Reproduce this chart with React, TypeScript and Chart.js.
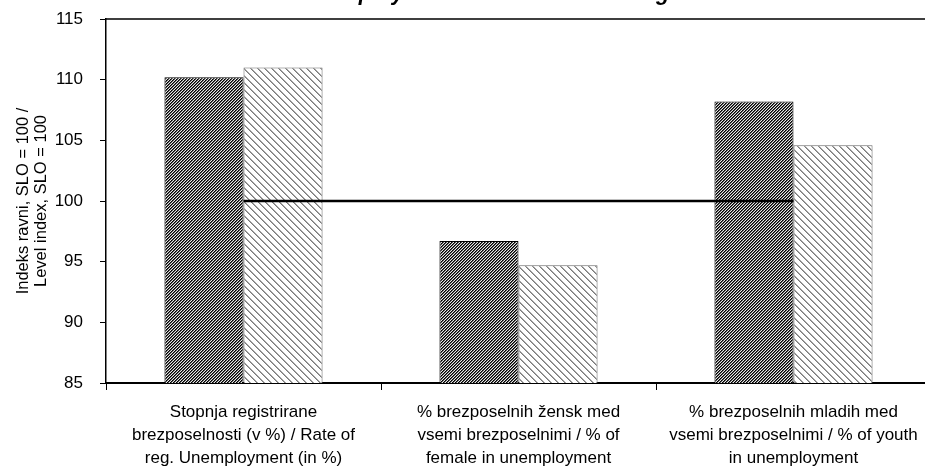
import React, { useEffect, useRef } from "react";
import { Chart, registerables } from "chart.js";

Chart.register(...registerables);

const categories: string[][] = [
  ["Stopnja registrirane", "brezposelnosti (v %) / Rate of", "reg. Unemployment (in %)"],
  ["% brezposelnih žensk med", "vsemi brezposelnimi / % of", "female in unemployment"],
  ["% brezposelnih mladih med", "vsemi brezposelnimi / % of youth", "in unemployment"],
];
const seriesA: number[] = [110.2, 96.7, 108.2];
const seriesB: number[] = [111.0, 94.7, 104.6];
const sloLine: number[] = [100, 100, 100];
const yTitle: string[] = ["Indeks ravni, SLO = 100 /", "Level index, SLO = 100"];
const chartTitle = "Unemployment in the statistical region";

const FONT = "'Liberation Sans', Arial, Helvetica, sans-serif";

function makeDarkPattern(ctx: CanvasRenderingContext2D): CanvasPattern | string {
  const c = document.createElement("canvas");
  c.width = 3;
  c.height = 3;
  const g = c.getContext("2d")!;
  for (let x = 0; x < 3; x++) {
    for (let y = 0; y < 3; y++) {
      const k = (x + y) % 3;
      g.fillStyle = k === 0 ? "#000000" : k === 1 ? "#5a5a5a" : "#e8e8e8";
      g.fillRect(x, y, 1, 1);
    }
  }
  return ctx.createPattern(c, "repeat") || "#555";
}

function makeLightPattern(ctx: CanvasRenderingContext2D): CanvasPattern | string {
  const c = document.createElement("canvas");
  c.width = 7;
  c.height = 7;
  const g = c.getContext("2d")!;
  g.fillStyle = "#ffffff";
  g.fillRect(0, 0, 7, 7);
  for (let x = 0; x < 7; x++) {
    for (let y = 0; y < 7; y++) {
      const k = (x - y + 14) % 7;
      if (k === 0) {
        g.fillStyle = "#7a7a7a";
        g.fillRect(x, y, 1, 1);
      } else if (k === 1) {
        g.fillStyle = "#a8a8a8";
        g.fillRect(x, y, 1, 1);
      }
    }
  }
  return ctx.createPattern(c, "repeat") || "#ddd";
}

const framePlugin = {
  id: "framePlugin",
  afterDraw(chart: any) {
    const { ctx, chartArea } = chart;
    ctx.save();
    ctx.strokeStyle = "#000";
    ctx.lineWidth = 1.5;
    ctx.beginPath();
    ctx.moveTo(chartArea.left, chartArea.top);
    ctx.lineTo(chartArea.right, chartArea.top);
    ctx.lineTo(chartArea.right, chartArea.bottom);
    ctx.stroke();
    ctx.fillStyle = "#000";
    ctx.font = `italic bold 22px ${FONT}`;
    ctx.textAlign = "center";
    ctx.textBaseline = "alphabetic";
    ctx.fillText(chartTitle, 500, 0);
    ctx.restore();
  },
};

export default function App() {
  const ref = useRef<HTMLCanvasElement | null>(null);

  useEffect(() => {
    const canvas = ref.current;
    if (!canvas) return;
    const ctx = canvas.getContext("2d")!;
    const dark = makeDarkPattern(ctx);
    const light = makeLightPattern(ctx);

    const chart = new Chart(ctx, {
      type: "bar",
      data: {
        labels: categories,
        datasets: [
          {
            type: "line",
            label: "SLO",
            data: sloLine,
            borderColor: "#000",
            borderWidth: 2.5,
            pointRadius: 0,
            fill: false,
            order: 0,
          } as any,
          {
            label: "A",
            data: seriesA,
            backgroundColor: dark as any,
            borderColor: "#000",
            borderWidth: 1,
            categoryPercentage: 0.575,
            barPercentage: 1,
            order: 1,
          },
          {
            label: "B",
            data: seriesB,
            backgroundColor: light as any,
            borderColor: "#666",
            borderWidth: 1,
            categoryPercentage: 0.575,
            barPercentage: 1,
            order: 1,
          },
        ],
      },
      options: {
        responsive: false,
        animation: false,
        devicePixelRatio: 1,
        layout: { padding: { top: 19, right: 9, left: 0, bottom: 0 } },
        plugins: {
          legend: { display: false },
          tooltip: { enabled: false },
          title: { display: false },
        },
        scales: {
          x: {
            offset: true,
            grid: {
              display: true,
              offset: true,
              drawOnChartArea: false,
              drawTicks: true,
              tickLength: 7,
              color: "#000",
              lineWidth: 1,
            },
            border: { display: true, color: "#000", width: 2 },
            ticks: {
              color: "#000",
              font: { family: FONT, size: 17, lineHeight: 1.35 },
              padding: 11,
              maxRotation: 0,
              autoSkip: false,
            },
            afterFit(scale: any) {
              scale.height = 83;
              scale.paddingLeft = 0;
              scale.paddingRight = 0;
            },
          },
          y: {
            min: 85,
            max: 115,
            ticks: {
              stepSize: 5,
              color: "#000",
              font: { family: FONT, size: 17 },
              padding: 17,
            },
            grid: {
              display: true,
              drawOnChartArea: false,
              drawTicks: true,
              tickLength: 6,
              color: "#000",
              lineWidth: 1,
            },
            border: { display: true, color: "#000", width: 1.5 },
            title: {
              display: true,
              text: yTitle,
              color: "#000",
              font: { family: FONT, size: 16.5, lineHeight: 1.05 },
              padding: { top: 15, bottom: 0 },
            },
            afterFit(scale: any) {
              scale.width = 106;
              scale.paddingTop = 0;
              scale.paddingBottom = 0;
            },
          },
        },
      },
      plugins: [framePlugin],
    } as any);

    return () => chart.destroy();
  }, []);

  return (
    <div
      style={{
        position: "absolute",
        left: 0,
        top: 0,
        width: 925,
        height: 466,
        overflow: "hidden",
        background: "#fff",
      }}
    >
      <canvas ref={ref} width={940} height={466} style={{ width: 940, height: 466, display: "block" }} />
    </div>
  );
}
